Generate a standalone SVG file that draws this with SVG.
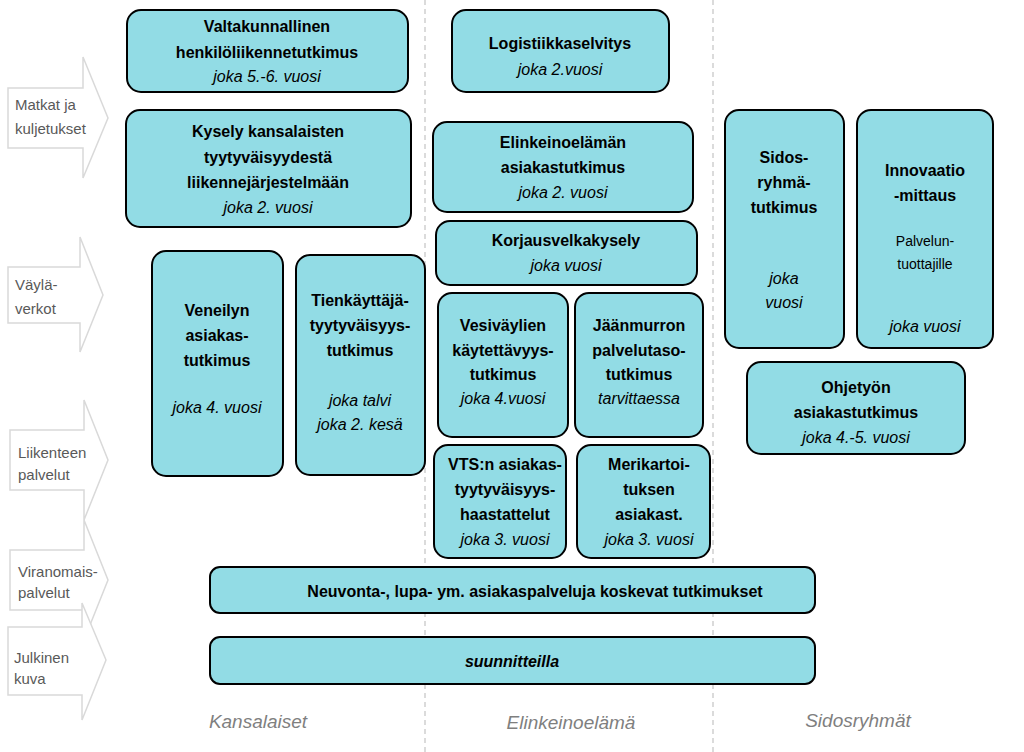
<svg xmlns="http://www.w3.org/2000/svg" width="1024" height="752" viewBox="0 0 1024 752">
<style>
.ar{fill:#fff;stroke:#d9d9d9;stroke-width:1.5}
.al{font-family:"Liberation Sans",Arial,sans-serif;font-size:15px;fill:#595959}
.bx{fill:#92dce5;stroke:#000;stroke-width:2}
.t{font-family:"Liberation Sans",Arial,sans-serif;font-size:16px;fill:#000;text-anchor:middle}
.b{font-weight:bold}
.i{font-style:italic}
.s{font-size:14px}
.ft{font-family:"Liberation Sans",Arial,sans-serif;font-size:19px;font-style:italic;fill:#7f7f7f;text-anchor:middle}
.dl{stroke:#d0d0d0;stroke-width:1.5;stroke-dasharray:5 4}
</style>
<rect width="1024" height="752" fill="#fff"/>
<g id="dividers">
<line class="dl" x1="425" y1="0" x2="425" y2="752"/>
<line class="dl" x1="713" y1="0" x2="713" y2="752"/>
</g>
<g id="arrow-matkat"><path class="ar" d="M8 88H83V57L108 118L83 178V148H8Z"/><text class="al" x="15" y="110">Matkat ja</text><text class="al" x="15" y="134">kuljetukset</text></g>
<g id="arrow-vayla"><path class="ar" d="M8 267H80V237L103 295L80 352V323H8Z"/><text class="al" x="15" y="290">Väylä-</text><text class="al" x="15" y="314">verkot</text></g>
<g id="arrow-liikenteen"><path class="ar" d="M10 430H84V400L108 460L84 520V490H10Z"/><text class="al" x="18" y="458">Liikenteen</text><text class="al" x="18" y="480">palvelut</text></g>
<g id="arrow-viranomais"><path class="ar" d="M10 550H84V520L108 580L84 640V610H10Z"/><text class="al" x="18" y="577">Viranomais-</text><text class="al" x="18" y="598">palvelut</text></g>
<g id="arrow-julkinen"><path class="ar" d="M8 627H82V603L106 660L82 720V695H8Z"/><text class="al" x="14" y="663">Julkinen</text><text class="al" x="14" y="684">kuva</text></g>

<g id="n1"><rect class="bx" x="127" y="10" width="281" height="82" rx="14"/><text class="t b" x="267" y="32">Valtakunnallinen</text><text class="t b" x="267" y="58">henkilöliikennetutkimus</text><text class="t i" x="267" y="82">joka 5.-6. vuosi</text></g>
<g id="n2"><rect class="bx" x="452" y="10" width="217" height="82" rx="14"/><text class="t b" x="560" y="49">Logistiikkaselvitys</text><text class="t i" x="560" y="75">joka 2.vuosi</text></g>
<g id="n3"><rect class="bx" x="126" y="110" width="285" height="117" rx="14"/><text class="t b" x="268" y="137">Kysely kansalaisten</text><text class="t b" x="268" y="163">tyytyväisyydestä</text><text class="t b" x="268" y="188">liikennejärjestelmään</text><text class="t i" x="268" y="213">joka 2. vuosi</text></g>
<g id="n4"><rect class="bx" x="433" y="122" width="260" height="90" rx="14"/><text class="t b" x="563" y="148">Elinkeinoelämän</text><text class="t b" x="563" y="173">asiakastutkimus</text><text class="t i" x="563" y="198">joka 2. vuosi</text></g>
<g id="n5"><rect class="bx" x="436" y="221" width="261" height="64" rx="14"/><text class="t b" x="566" y="246">Korjausvelkakysely</text><text class="t i" x="566" y="271">joka vuosi</text></g>
<g id="n6"><rect class="bx" x="725" y="110" width="119" height="238" rx="14"/><text class="t b" x="784" y="163">Sidos-</text><text class="t b" x="784" y="188">ryhmä-</text><text class="t b" x="784" y="213">tutkimus</text><text class="t i" x="784" y="284">joka</text><text class="t i" x="784" y="308">vuosi</text></g>
<g id="n7"><rect class="bx" x="857" y="110" width="136" height="238" rx="14"/><text class="t b" x="925" y="176">Innovaatio</text><text class="t b" x="925" y="201">-mittaus</text><text class="t s" x="925" y="246">Palvelun-</text><text class="t s" x="925" y="269">tuottajille</text><text class="t i" x="925" y="332">joka vuosi</text></g>
<g id="n8"><rect class="bx" x="152" y="251" width="131" height="225" rx="14"/><text class="t b" x="217" y="316">Veneilyn</text><text class="t b" x="217" y="341">asiakas-</text><text class="t b" x="217" y="366">tutkimus</text><text class="t i" x="217" y="413">joka 4. vuosi</text></g>
<g id="n9"><rect class="bx" x="296" y="255" width="129" height="220" rx="14"/><text class="t b" x="360" y="306">Tienkäyttäjä-</text><text class="t b" x="360" y="331">tyytyväisyys-</text><text class="t b" x="360" y="356">tutkimus</text><text class="t i" x="360" y="406">joka talvi</text><text class="t i" x="360" y="430">joka 2. kesä</text></g>
<g id="n10"><rect class="bx" x="438" y="293" width="130" height="144" rx="14"/><text class="t b" x="503" y="331">Vesiväylien</text><text class="t b" x="503" y="356">käytettävyys-</text><text class="t b" x="503" y="380">tutkimus</text><text class="t i" x="503" y="404">joka 4.vuosi</text></g>
<g id="n11"><rect class="bx" x="575" y="293" width="128" height="144" rx="14"/><text class="t b" x="639" y="331">Jäänmurron</text><text class="t b" x="639" y="356">palvelutaso-</text><text class="t b" x="639" y="380">tutkimus</text><text class="t i" x="639" y="404">tarvittaessa</text></g>
<g id="n12"><rect class="bx" x="747" y="362" width="218" height="92" rx="14"/><text class="t b" x="856" y="393">Ohjetyön</text><text class="t b" x="856" y="418">asiakastutkimus</text><text class="t i" x="856" y="443">joka 4.-5. vuosi</text></g>
<g id="n13"><rect class="bx" x="434" y="445" width="132" height="113" rx="14"/><text class="t b" x="505" y="470">VTS:n asiakas-</text><text class="t b" x="505" y="495">tyytyväisyys-</text><text class="t b" x="505" y="520">haastattelut</text><text class="t i" x="505" y="545">joka 3. vuosi</text></g>
<g id="n14"><rect class="bx" x="577" y="445" width="133" height="113" rx="14"/><text class="t b" x="649" y="470">Merikartoi-</text><text class="t b" x="649" y="495">tuksen</text><text class="t b" x="649" y="520">asiakast.</text><text class="t i" x="649" y="545">joka 3. vuosi</text></g>
<g id="n15"><rect class="bx" x="210" y="567" width="605" height="46" rx="10"/><text class="t b" x="535" y="597">Neuvonta-, lupa- ym. asiakaspalveluja koskevat tutkimukset</text></g>
<g id="n16"><rect class="bx" x="210" y="637" width="605" height="47" rx="10"/><text class="t b i" x="512" y="667">suunnitteilla</text></g>
<g id="columns"><text class="ft" x="258" y="728">Kansalaiset</text><text class="ft" x="571" y="729">Elinkeinoelämä</text><text class="ft" x="858" y="727">Sidosryhmät</text></g>
<g id="connectors"/>
</svg>
